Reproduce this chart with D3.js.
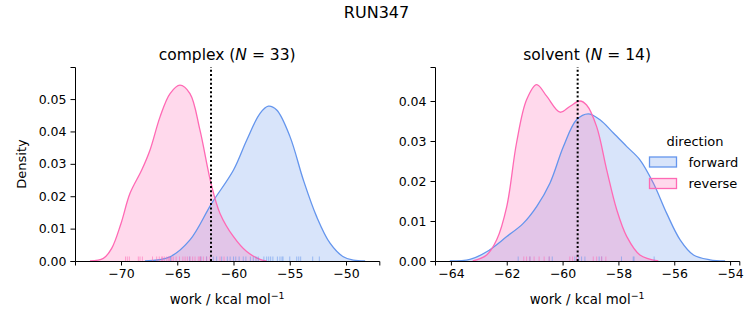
<!DOCTYPE html>
<html><head><meta charset="utf-8">
<script src="https://cdn.jsdelivr.net/npm/d3@7"></script>
<style>body{margin:0;background:#fff}svg{display:block;font-family:"DejaVu Sans",sans-serif}</style>
</head><body><div id="chart"></div>
<script>
// ---- data ----
const directions = ["forward", "reverse"];
// complex panel KDE curves
const complexFwdX = [-67.87,-65.64,-63.87,-61.94,-60.0,-58.83,-57.64,-56.9,-56.16,-54.98,-53.79,-52.61,-51.42,-50.24,-49.35,-48.3];
const complexFwdY = [0,0.0013,0.0065,0.0178,0.0281,0.0373,0.0456,0.0478,0.0466,0.0384,0.025,0.0137,0.0055,0.0013,0.0003,0];
const complexRevX = [-72.76,-71.57,-70.83,-70.0,-69.2,-68.16,-67.42,-66.53,-65.64,-64.76,-63.87,-62.98,-62.0,-61.2,-60.0,-58.83,-57.64,-57.05];
const complexRevY = [0,0.0008,0.0039,0.0116,0.0209,0.0281,0.0343,0.0445,0.0517,0.0543,0.0517,0.0404,0.024,0.0147,0.0075,0.0029,0.0005,0];
// solvent panel KDE curves
const solventFwdX = [-64.04,-63.32,-62.72,-62.0,-61.41,-60.93,-60.45,-59.97,-59.5,-59.08,-58.66,-58.18,-57.7,-57.23,-56.75,-56.27,-55.79,-55.31,-54.72,-54.18];
const solventFwdY = [0,0.0004,0.0023,0.0061,0.0094,0.0136,0.0195,0.0286,0.0353,0.0368,0.0353,0.032,0.0286,0.0253,0.0195,0.0119,0.0053,0.0015,0.0003,0];
const solventRevX = [-63.22,-62.72,-62.36,-62.0,-61.65,-61.29,-60.93,-60.57,-60.09,-59.73,-59.38,-59.14,-58.78,-58.42,-58.06,-57.7,-57.23,-56.57];
const solventRevY = [0,0.0015,0.0053,0.0136,0.0295,0.0403,0.0441,0.0412,0.0372,0.0387,0.040,0.039,0.0336,0.0228,0.0128,0.0061,0.0015,0];
// rug samples
const complexFwdRug = [-65.6,-63.9,-62.9,-62.4,-61.8,-61.5,-61.05,-60.55,-60.3,-60.0,-59.8,-59.5,-59.13,-58.9,-58.5,-58.24,-58.0,-57.8,-57.3,-57.05,-56.87,-56.7,-56.5,-56.1,-55.87,-55.69,-55.6,-55.0,-54.38,-54.2,-54.03,-52.96,-52.37];
const complexRevRug = [-69.6,-69.44,-69.26,-68.46,-68.31,-68.1,-67.2,-66.83,-66.6,-66.39,-66.3,-66.15,-65.94,-65.8,-65.7,-65.5,-65.35,-65.1,-64.8,-64.5,-64.3,-64.1,-63.87,-63.63,-63.42,-63.13,-63.0,-62.92,-62.68,-62.38,-62.1,-61.2,-60.84];
const solventFwdRug = [-61.59,-61.17,-60.48,-60.37,-59.56,-59.42,-59.32,-59.2,-58.69,-58.6,-57.89,-57.47,-57.44,-56.72];
const solventRevRug = [-61.39,-61.29,-61.17,-61.02,-60.84,-60.66,-60.48,-59.74,-59.64,-59.5,-58.9,-58.78,-58.6,-58.45];
// reference lines
const complexRef = -62.0, solventRef = -59.46;
// axis settings
const complexXTicks = [-70,-65,-60,-55,-50];
const complexYTicks = [0,0.01,0.02,0.03,0.04,0.05];
const solventXTicks = [-64,-62,-60,-58,-56,-54];
const solventYTicks = [0,0.01,0.02,0.03,0.04];
const complexXDomain = [-74.09,-47.04], complexYMax = 0.0599;
const solventXDomain = [-64.57,-53.67], solventYMax = 0.0485;
const suptitle = "RUN347";

const colors = {forward: "#6495ED", reverse: "#FF69B4"};

const W = 753, H = 325;
const svg = d3.select("#chart").append("svg").attr("width", W).attr("height", H);
svg.append("rect").attr("width", W).attr("height", H).attr("fill", "#fff");

svg.append("text").attr("x", 376.5).attr("y", 18).attr("text-anchor", "middle")
  .attr("font-size", 16).text(suptitle);

function panel(opts) {
  const {left, right, top, bottom} = opts;
  const x = d3.scaleLinear().domain(opts.xDomain).range([left, right]);
  const y = d3.scaleLinear().domain([0, opts.yMax]).range([bottom, top]);
  const g = svg.append("g");
  const curve = d3.curveCatmullRom.alpha(0.5);
  const yc = v => Math.min(y(0), y(v));
  const area = d3.area().x(d => x(d[0])).y0(y(0)).y1(d => yc(d[1])).curve(curve);
  const line = d3.line().x(d => x(d[0])).y(d => yc(d[1])).curve(curve);
  opts.series.forEach(s => {
    const pts = s.xs.map((v, i) => [v, s.ys[i]]);
    g.append("path").attr("d", area(pts)).attr("fill", colors[s.dir]).attr("fill-opacity", 0.25);
  });
  opts.series.forEach(s => {
    const pts = s.xs.map((v, i) => [v, s.ys[i]]);
    g.append("path").attr("d", line(pts)).attr("fill", "none").attr("stroke", colors[s.dir]).attr("stroke-width", 1.3);
  });
  opts.series.forEach(s => {
    g.selectAll(null).data(s.rug).enter().append("line")
      .attr("x1", d => x(d)).attr("x2", d => x(d))
      .attr("y1", bottom).attr("y2", bottom - 4.5)
      .attr("stroke", colors[s.dir]).attr("stroke-opacity", 0.55).attr("stroke-width", 1);
  });
  g.append("line").attr("x1", x(opts.ref)).attr("x2", x(opts.ref))
    .attr("y1", bottom).attr("y2", top)
    .attr("stroke", "#000").attr("stroke-width", 2).attr("stroke-dasharray", "2,2.3");

  const xa = svg.append("g").attr("transform", `translate(0,${bottom})`)
    .call(d3.axisBottom(x).tickValues(opts.xTicks).tickFormat(d3.format("d")).tickSizeOuter(0).tickSize(4.5).tickPadding(4));
  const ya = svg.append("g").attr("transform", `translate(${left},0)`)
    .call(d3.axisLeft(y).tickValues(opts.yTicks).tickFormat(d3.format(".2f")).tickSizeOuter(0).tickSize(4.5).tickPadding(4));
  [xa, ya].forEach(a => {
    a.selectAll("text").attr("font-size", 12.5).attr("fill", "#000").attr("font-family", "DejaVu Sans");
    a.selectAll("line").attr("stroke", "#000").attr("stroke-width", 1);
    a.select(".domain").attr("stroke", "#000").attr("stroke-width", 1);
  });
  // x label
  const xl = svg.append("text").attr("x", (left + right) / 2).attr("y", 304)
    .attr("text-anchor", "middle").attr("font-size", 13.3);
  xl.append("tspan").text("work / kcal mol");
  xl.append("tspan").attr("dy", -5).attr("font-size", 9.5).text("\u22121");
  // title
  const t = svg.append("text").attr("x", (left + right) / 2).attr("y", 59.5)
    .attr("text-anchor", "middle").attr("font-size", 15.5);
  t.append("tspan").text(opts.title + " (");
  t.append("tspan").attr("font-style", "italic").text("N");
  t.append("tspan").text(" = " + opts.n + ")");
}

panel({left: 75, right: 379.3, top: 67, bottom: 261, xDomain: complexXDomain, yMax: complexYMax,
  xTicks: complexXTicks, yTicks: complexYTicks, ref: complexRef, title: "complex", n: 33,
  series: [
    {dir: "forward", xs: complexFwdX, ys: complexFwdY, rug: complexFwdRug},
    {dir: "reverse", xs: complexRevX, ys: complexRevY, rug: complexRevRug}
  ]});
panel({left: 435, right: 739.3, top: 67, bottom: 261, xDomain: solventXDomain, yMax: solventYMax,
  xTicks: solventXTicks, yTicks: solventYTicks, ref: solventRef, title: "solvent", n: 14,
  series: [
    {dir: "forward", xs: solventFwdX, ys: solventFwdY, rug: solventFwdRug},
    {dir: "reverse", xs: solventRevX, ys: solventRevY, rug: solventRevRug}
  ]});

// y label
svg.append("text").attr("transform", "translate(26,164) rotate(-90)")
  .attr("text-anchor", "middle").attr("font-size", 13).text("Density");

// legend
const lg = svg.append("g");
lg.append("text").attr("x", 695).attr("y", 146).attr("text-anchor", "middle").attr("font-size", 13).text("direction");
directions.forEach((d, i) => {
  const yy = 157 + i * 21.5;
  lg.append("rect").attr("x", 649.5).attr("y", yy).attr("width", 27).attr("height", 10)
    .attr("fill", colors[d]).attr("fill-opacity", 0.25).attr("stroke", colors[d]).attr("stroke-width", 1.3);
  lg.append("text").attr("x", 688.5).attr("y", yy + 9.5).attr("font-size", 13).text(d);
});
</script></body></html>
